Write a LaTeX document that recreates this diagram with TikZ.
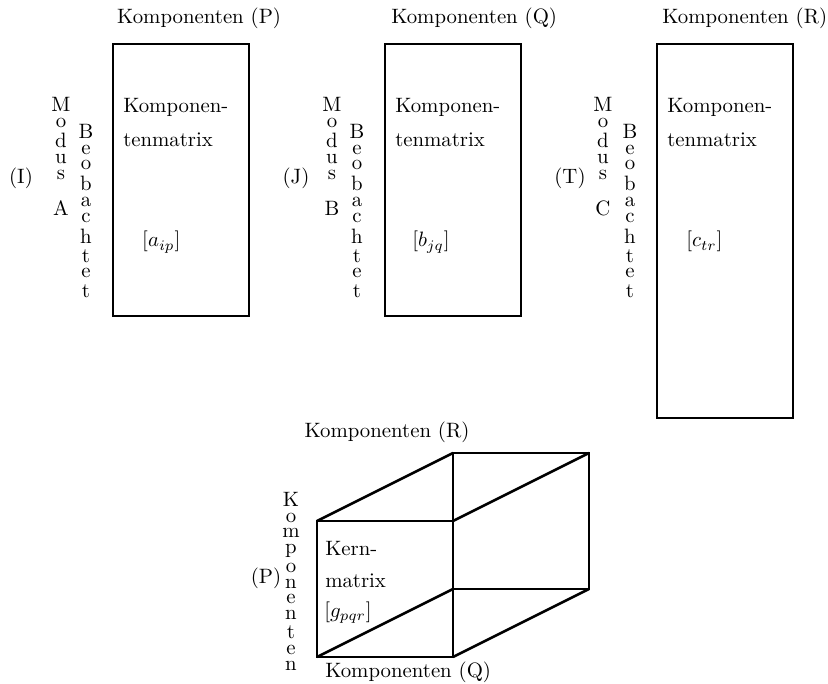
\documentclass[tikz,border=0pt]{standalone}
\begin{document}
\begin{tikzpicture}[x=0.4808pt,y=-0.4808pt,line width=1.2pt,
  lbl/.style={inner sep=0pt,anchor=base west},
  ctr/.style={inner sep=0pt,anchor=base},
  stk/.style={inner sep=0pt,anchor=north}]
\useasboundingbox (0,0) rectangle (828,684);
% ---------- matrix A ----------
\node[lbl] (kp) at (116,24) {Komponenten (P)};
\draw (113,44) rectangle (249,316);
\node[lbl] (ka1) at (122,113) {Komponen-};
\node[lbl] (ka2) at (122,147) {tenmatrix};
\node[lbl] (ma) at (141,247) {$[a_{ip}]$};
\node[ctr] (mi) at (21,184) {(I)};
\node[stk] (moda) at (61,96) {\shortstack{M\\o\\d\\u\\s}};
\node[ctr] (la) at (61,216) {A};
\node[stk] (beoa) at (86,123) {\shortstack{B\\e\\o\\b\\a\\c\\h\\t\\e\\t}};
% ---------- matrix B ----------
\node[lbl] (kq) at (390,24) {Komponenten (Q)};
\draw (385,44) rectangle (521,316);
\node[lbl] (kb1) at (394,113) {Komponen-};
\node[lbl] (kb2) at (394,147) {tenmatrix};
\node[lbl] (mb) at (411,247) {$[b_{jq}]$};
\node[ctr] (mj) at (296,184) {(J)};
\node[stk] (modb) at (332,96) {\shortstack{M\\o\\d\\u\\s}};
\node[ctr] (lb) at (332,216) {B};
\node[stk] (beob) at (357,123) {\shortstack{B\\e\\o\\b\\a\\c\\h\\t\\e\\t}};
% ---------- matrix C ----------
\node[lbl] (kr) at (661,24) {Komponenten (R)};
\draw (657,44) rectangle (793,418);
\node[lbl] (kc1) at (666,113) {Komponen-};
\node[lbl] (kc2) at (666,147) {tenmatrix};
\node[lbl] (mc) at (685,247) {$[c_{tr}]$};
\node[ctr] (mt) at (570,184) {(T)};
\node[stk] (modc) at (603,96) {\shortstack{M\\o\\d\\u\\s}};
\node[ctr] (lc) at (603,216) {C};
\node[stk] (beoc) at (630,123) {\shortstack{B\\e\\o\\b\\a\\c\\h\\t\\e\\t}};
% ---------- core cube ----------
\coordinate (f1) at (317,521);
\coordinate (f2) at (453,521);
\coordinate (f3) at (453,657);
\coordinate (f4) at (317,657);
\coordinate (b1) at (453,453);
\coordinate (b2) at (589,453);
\coordinate (b3) at (589,589);
\coordinate (b4) at (453,589);
\draw (f1) -- (f2) -- (f3) -- (f4) -- cycle;
\draw (b1) -- (b2) -- (b3) -- (b4) -- cycle;
\draw (f1) -- (b1);
\draw (f2) -- (b2);
\draw (f3) -- (b3);
\draw (f4) -- (b4);
\node[ctr] (kcr) at (387,438) {Komponenten (R)};
\node[lbl] (kcq) at (324,677) {Komponenten (Q)};
\node[ctr] (kcp) at (266,583) {(P)};
\node[stk] (kcv) at (291,491) {\shortstack{K\\o\\m\\p\\o\\n\\e\\n\\t\\e\\n}};
\node[lbl] (g1) at (324,555) {Kern-};
\node[lbl] (g2) at (324,587) {matrix};
\node[lbl] (g3) at (323,617) {$[g_{pqr}]$};
\end{tikzpicture}
\end{document}
